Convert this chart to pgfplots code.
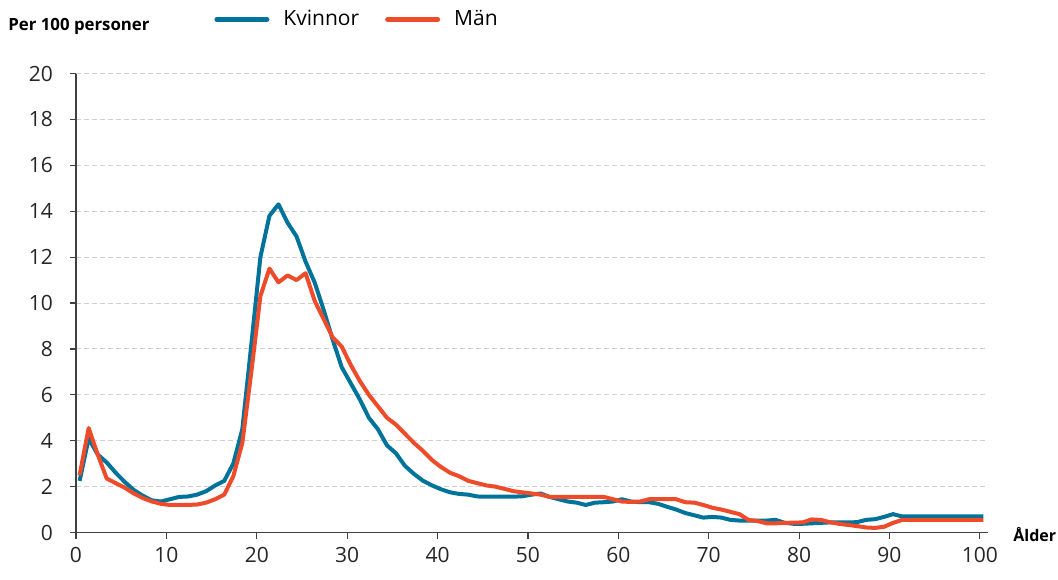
\documentclass[border=0pt]{standalone}
\usepackage{pgfplots}
\usepackage{pgfplotstable}
\usepackage{fontspec}
\pgfplotsset{compat=1.18}
\setmainfont{Open Sans}
\definecolor{kvblue}{HTML}{00739A}
\definecolor{manred}{HTML}{EE4B2B}
\definecolor{gridgray}{HTML}{D0D0D0}
\definecolor{axgray}{HTML}{404040}

% age, per 100 persons
\pgfplotstableread{
age val
0 2.25
1 4.1
2 3.4
3 3.05
4 2.6
5 2.2
6 1.85
7 1.6
8 1.4
9 1.35
10 1.45
11 1.55
12 1.57
13 1.65
14 1.8
15 2.05
16 2.25
17 3.0
18 4.5
19 8.2
20 12.0
21 13.8
22 14.3
23 13.5
24 12.9
25 11.8
26 10.9
27 9.7
28 8.4
29 7.2
30 6.5
31 5.8
32 5.0
33 4.5
34 3.8
35 3.45
36 2.9
37 2.55
38 2.25
39 2.05
40 1.88
41 1.75
42 1.68
43 1.65
44 1.57
45 1.56
46 1.56
47 1.56
48 1.56
49 1.58
50 1.65
51 1.7
52 1.55
53 1.45
54 1.35
55 1.3
56 1.2
57 1.3
58 1.32
59 1.35
60 1.45
61 1.35
62 1.32
63 1.32
64 1.25
65 1.12
66 1.0
67 0.85
68 0.75
69 0.65
70 0.68
71 0.65
72 0.55
73 0.52
74 0.52
75 0.52
76 0.52
77 0.55
78 0.42
79 0.38
80 0.38
81 0.4
82 0.42
83 0.44
84 0.44
85 0.44
86 0.45
87 0.55
88 0.58
89 0.68
90 0.8
91 0.7
92 0.7
93 0.7
94 0.7
95 0.7
96 0.7
97 0.7
98 0.7
99 0.7
100 0.7
}\kvinnor

\pgfplotstableread{
age val
0 2.5
1 4.55
2 3.4
3 2.35
4 2.15
5 1.95
6 1.7
7 1.5
8 1.35
9 1.25
10 1.2
11 1.2
12 1.2
13 1.22
14 1.3
15 1.45
16 1.65
17 2.45
18 3.9
19 7.0
20 10.3
21 11.5
22 10.9
23 11.2
24 11.0
25 11.3
26 10.1
27 9.3
28 8.5
29 8.1
30 7.3
31 6.6
32 6.0
33 5.5
34 5.0
35 4.7
36 4.3
37 3.9
38 3.55
39 3.15
40 2.85
41 2.6
42 2.45
43 2.25
44 2.15
45 2.05
46 2.0
47 1.9
48 1.8
49 1.75
50 1.7
51 1.65
52 1.55
53 1.55
54 1.55
55 1.55
56 1.55
57 1.55
58 1.55
59 1.45
60 1.35
61 1.33
62 1.35
63 1.45
64 1.45
65 1.45
66 1.45
67 1.32
68 1.3
69 1.2
70 1.08
71 1.0
72 0.9
73 0.8
74 0.55
75 0.5
76 0.4
77 0.4
78 0.42
79 0.43
80 0.44
81 0.57
82 0.55
83 0.45
84 0.38
85 0.33
86 0.28
87 0.22
88 0.2
89 0.25
90 0.42
91 0.55
92 0.55
93 0.55
94 0.55
95 0.55
96 0.55
97 0.55
98 0.55
99 0.55
100 0.55
}\man

\begin{document}
\begin{tikzpicture}
\begin{axis}[
    scale only axis,
    width=456pt, height=229.5pt,
    xmin=0, xmax=100.9,
    ymin=0, ymax=20,
    xtick={0,10,...,100},
    ytick={0,2,...,20},
    axis x line*=bottom,
    axis y line*=left,
    axis line style={axgray, line width=0.6pt},
    tick style={axgray, line width=0.6pt},
    tick align=outside,
    major tick length=3pt,
    ymajorgrids,
    grid style={gridgray, line width=0.5pt, dash pattern=on 2.5pt off 1.5pt},
    /pgf/number format/assume math mode=true,
    tick label style={font=\fontsize{10.5}{12}\selectfont, text=black!85},
    yticklabel style={xshift=-5pt},
    xticklabel style={yshift=-1pt},
    legend columns=2,
    legend style={at={(axis description cs:0,1)}, anchor=west,
        xshift=66pt, yshift=27pt, draw=none, fill=none,
        font=\fontsize{10.5}{12}\selectfont,
        /tikz/every odd column/.append style={column sep=5pt},
        /tikz/every even column/.append style={column sep=11pt}},
    legend image code/.code={\draw[#1, line width=2.5pt, line cap=round] (0pt,0pt) -- (25pt,0pt);},
    clip=false,
]
\addplot[kvblue, line width=2pt, line join=round] table[x expr=\thisrow{age}+0.4, y=val] {\kvinnor};
\addlegendentry{Kvinnor}
\addplot[manred, line width=2pt, line join=round] table[x expr=\thisrow{age}+0.4, y=val] {\man};
\addlegendentry{Män}
\node[anchor=west, font=\bfseries\fontsize{8.4}{9}\selectfont, inner sep=0pt]
    at ([xshift=-34pt, yshift=23.5pt]rel axis cs:0,1) {Per 100 personer};
\node[anchor=west, font=\bfseries\fontsize{8}{9}\selectfont, inner sep=0pt]
    at ([xshift=12.5pt, yshift=-1pt]rel axis cs:1,0) {Ålder};
\coordinate (O) at (rel axis cs:0,0);
\end{axis}
\path (O) ++(-38pt,-23.25pt) rectangle ++(529pt,289.5pt);
\end{tikzpicture}
\end{document}
